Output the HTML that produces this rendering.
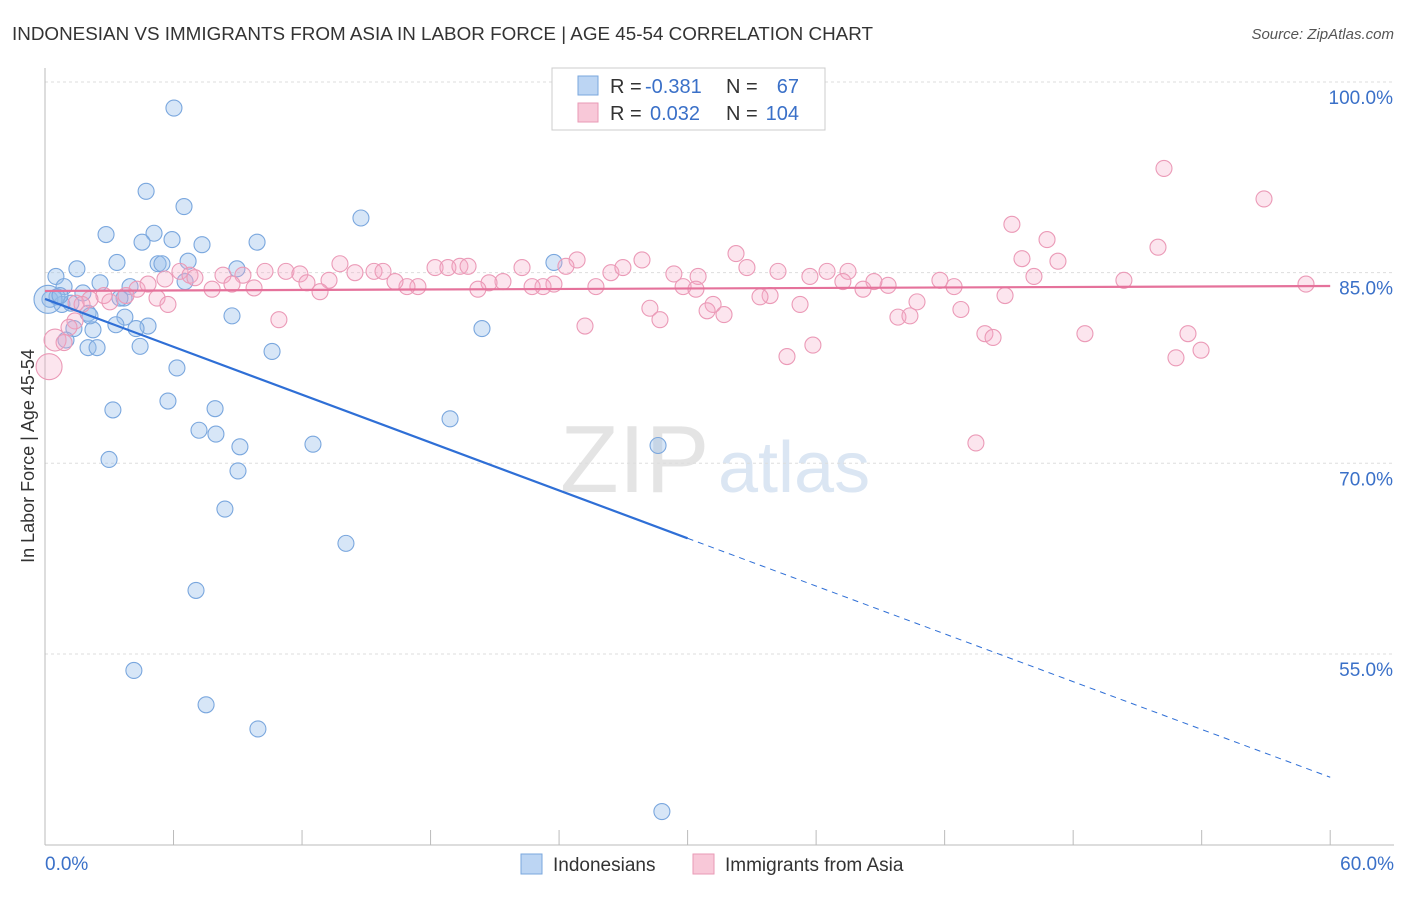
<!DOCTYPE html>
<html><head><meta charset="utf-8">
<style>
body{margin:0;background:#fff;font-family:"Liberation Sans",sans-serif;}
svg text{font-family:"Liberation Sans",sans-serif;}
</style></head>
<body>
<svg id="c" width="1406" height="892" xmlns="http://www.w3.org/2000/svg">
<text x="12" y="40" font-size="18" fill="#333" textLength="861" lengthAdjust="spacingAndGlyphs">INDONESIAN VS IMMIGRANTS FROM ASIA IN LABOR FORCE | AGE 45-54 CORRELATION CHART</text>
<text x="1394" y="39" font-size="15" fill="#555" font-style="italic" text-anchor="end">Source: ZipAtlas.com</text>
<text x="560" y="492" font-size="96" fill="#e4e4e4" font-family="Liberation Serif">ZIP</text>
<text x="718" y="492" font-size="72" fill="#dbe6f3">atlas</text>
<g id="grid"></g>
<g id="axes"></g>
<g id="pts"></g>
<g id="trend"></g>
<g>
<rect x="552" y="68" width="273" height="62" fill="#fff" stroke="#ccc"/>
<rect x="578" y="76" width="20" height="19" fill="#bcd5f3" stroke="#7aa7de"/>
<rect x="578" y="103" width="20" height="19" fill="#f8c8d8" stroke="#e99ab6"/>
<text x="610" y="93" font-size="20" fill="#333">R =</text>
<text x="645" y="93" font-size="20" fill="#3a70c8">-0.381</text>
<text x="726" y="93" font-size="20" fill="#333">N =</text>
<text x="799" y="93" font-size="20" fill="#3a70c8" text-anchor="end">67</text>
<text x="610" y="120" font-size="20" fill="#333">R =</text>
<text x="650" y="120" font-size="20" fill="#3a70c8">0.032</text>
<text x="726" y="120" font-size="20" fill="#333">N =</text>
<text x="799" y="120" font-size="20" fill="#3a70c8" text-anchor="end">104</text>
</g>
<g>
<rect x="521" y="854" width="21" height="20" fill="#bcd5f3" stroke="#7aa7de"/>
<text x="553" y="871" font-size="19" fill="#333">Indonesians</text>
<rect x="693" y="854" width="21" height="20" fill="#f8c8d8" stroke="#e99ab6"/>
<text x="725" y="871" font-size="19" fill="#333">Immigrants from Asia</text>
</g>
<text transform="translate(34,456) rotate(-90)" font-size="18" fill="#333" text-anchor="middle">In Labor Force | Age 45-54</text>
</svg>
<script>
const yTicks=[100,85,70,55];
const yTickLabels=["100.0%","85.0%","70.0%","55.0%"];
const xTickLabels=["0.0%","60.0%"];
const blueX=[6.02,4.72,6.49,14.75,2.85,5.09,4.53,5.93,7.33,9.9,3.36,5.28,6.68,5.46,8.96,0.51,1.49,2.57,6.54,3.97,0.89,1.77,0.23,0.79,1.21,2.01,3.73,8.73,3.31,4.81,4.25,1.35,2.24,4.44,0.98,2.01,2.43,10.6,20.4,23.76,6.16,3.17,5.74,7.94,7.19,7.98,9.1,12.51,18.91,28.62,2.99,9.01,8.4,14.05,7.05,4.15,7.52,9.94,28.8,3.69,3.5,2.1,0.56,0.14,0.7];
const blueY=[97.95,91.4,90.2,89.3,88.0,88.1,87.4,87.6,87.2,87.4,85.8,85.7,85.9,85.7,85.3,84.7,85.3,84.2,84.3,83.9,83.9,83.4,82.9,82.5,82.6,81.8,81.5,81.6,80.9,80.8,80.6,80.6,80.5,79.2,79.7,79.1,79.1,78.8,80.6,85.8,77.5,74.2,74.9,74.3,72.6,72.3,71.3,71.5,73.5,71.4,70.3,69.4,66.4,63.7,60.0,53.7,51.0,49.1,42.6,83.0,83.0,81.6,83.1,82.9,83.2];
const blueR=blueX.map((v,i)=>i===63?14:8);
const pinkX=[52.24,56.91,45.14,46.78,51.96,32.26,45.61,47.29,24.84,27.87,24.32,13.77,32.77,37.49,36.51,34.22,10.27,11.25,11.9,6.3,6.77,8.31,9.24,15.36,15.78,14.47,18.21,18.81,19.37,19.75,22.27,26.42,26.98,29.36,30.49,46.17,50.37,58.87,41.78,42.44,39.36,38.7,38.19,37.25,35.71,29.79,30.39,25.72,23.76,23.25,22.74,21.38,20.73,20.21,17.41,16.9,16.34,13.26,12.23,12.84,9.76,7.8,8.73,7.0,5.6,4.3,4.81,2.75,2.1,5.23,5.74,3.03,3.78,1.45,1.73,44.82,40.71,42.76,33.85,33.38,35.25,31.19,31.7,30.91,28.24,28.71,25.21,10.92,1.4,1.12,0.47,0.19,0.89,39.82,40.38,48.55,53.36,43.88,44.26,35.85,34.64,53.97,52.8,43.46];
const pinkY=[93.2,90.8,88.8,87.6,87.0,86.5,86.1,85.9,86.0,86.0,85.5,85.7,85.4,85.1,85.1,85.1,85.1,85.1,84.9,85.1,84.8,84.8,84.8,85.1,85.1,85.0,85.4,85.4,85.5,85.5,85.4,85.0,85.4,84.9,84.7,84.7,84.4,84.1,84.4,83.9,84.0,84.3,83.7,84.3,84.7,83.9,83.7,83.9,84.1,83.9,83.9,84.3,84.2,83.7,83.9,83.9,84.3,84.4,84.2,83.5,83.8,83.7,84.1,84.6,84.5,83.7,84.1,83.2,82.9,83.0,82.5,82.7,83.2,82.6,82.5,83.2,82.7,82.1,83.2,83.1,82.5,82.5,81.7,82.0,82.2,81.3,80.8,81.3,81.2,80.7,79.7,77.6,79.5,81.5,81.6,80.2,80.2,80.2,79.9,79.3,78.4,78.9,78.3,71.6];
const pinkR=pinkX.map((v,i)=>i===91?13:(i===90?11:8));
const blueTrend=[82.93,64.1,45.3]; // at x=0,30,60
const pinkTrend=[83.56,83.95]; // at x=0,60

const X=v=>45+v*21.42, Y=v=>82+(100-v)*12.71;
const NS="http://www.w3.org/2000/svg";
function mk(tag,attrs,parent){const e=document.createElementNS(NS,tag);for(const k in attrs)e.setAttribute(k,attrs[k]);document.getElementById(parent).appendChild(e);return e;}
yTicks.forEach((t,i)=>{
  const l=mk('line',{x1:45,x2:1394,y1:Y(t),y2:Y(t),stroke:'#ddd','stroke-dasharray':'3,3'},'grid');
  
  
  const tx=mk('text',{x:1393,y:Y(t)+22,'font-size':19,fill:'#3a70c8','text-anchor':'end'},'grid');
  tx.textContent=yTickLabels[i];
  
  
});
const ax=mk('line',{x1:45,x2:45,y1:68,y2:845,stroke:'#bbb'},'axes');


const bx=mk('line',{x1:45,x2:1394,y1:845,y2:845,stroke:'#bbb'},'axes');


for(let i=0;i<=10;i++){const tk=mk('line',{x1:X(i*6),x2:X(i*6),y1:830,y2:845,stroke:'#bbb'},'axes');
  
  }
[[0,'start',45],[60,'end',1394]].forEach((d,i)=>{const t=mk('text',{x:d[2],y:870,'font-size':19,fill:'#3a70c8','text-anchor':d[1]},'axes');t.textContent=xTickLabels[i];
  
  });
blueX.forEach((v,i)=>{const c=mk('circle',{cx:X(v),cy:Y(blueY[i]),r:blueR[i],fill:'rgba(150,188,235,0.38)',stroke:'#7aa7de','stroke-width':1.1},'pts');
  
  });
pinkX.forEach((v,i)=>{const c=mk('circle',{cx:X(v),cy:Y(pinkY[i]),r:pinkR[i],fill:'rgba(245,170,198,0.3)',stroke:'#eb9ab7','stroke-width':1.1},'pts');
  
  });
const b1=mk('line',{x1:X(0),y1:Y(blueTrend[0]),x2:X(30),y2:Y(blueTrend[1]),stroke:'#2f6fd6','stroke-width':2.2},'trend');


const b2=mk('line',{x1:X(30),y1:Y(blueTrend[1]),x2:X(60),y2:Y(blueTrend[2]),stroke:'#2f6fd6','stroke-width':1,'stroke-dasharray':'6,5'},'trend');


const p1=mk('line',{x1:X(0),y1:Y(pinkTrend[0]),x2:X(60),y2:Y(pinkTrend[1]),stroke:'#e5729b','stroke-width':2.2},'trend');


</script>
</body></html>
